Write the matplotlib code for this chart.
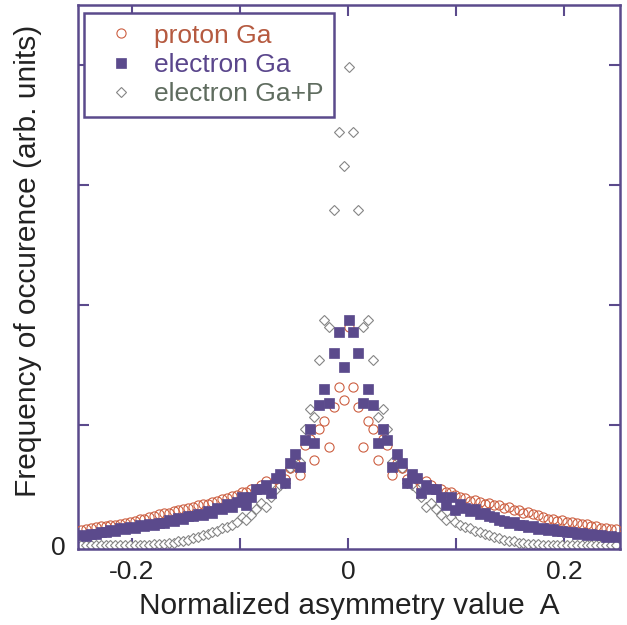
import numpy as np
import matplotlib
matplotlib.use("Agg")
import matplotlib.pyplot as plt

plt.rcParams['font.family'] = ['Liberation Sans', 'DejaVu Sans']

# Asymmetry bins (width 0.0045, centred slightly left of zero)
bin_width = 0.0045
bin_offset = -0.0017
bin_index = np.arange(-55, 56)
asym = bin_offset + bin_width * (bin_index + 0.5)

# Values listed per bin, left half runs A<0 from the edge inward,
# right half runs A>0 from the centre outward.
proton_left = [0.125, 0.135, 0.14, 0.15, 0.155, 0.16, 0.165, 0.17, 0.175, 0.185,
               0.19, 0.20, 0.215, 0.22, 0.23, 0.24, 0.26, 0.265, 0.27, 0.28,
               0.29, 0.30, 0.31, 0.32, 0.33, 0.34, 0.345, 0.36, 0.37, 0.38,
               0.39, 0.41, 0.42, 0.44, 0.44, 0.47, 0.47, 0.50, 0.53, 0.50,
               0.55, 0.58, 0.55, 0.64, 0.68, 0.58, 0.83, 0.88, 0.71, 0.97,
               1.03, 0.82, 1.15, 1.32, 1.21]
proton_right = [1.82, 1.32, 1.15, 0.82, 1.03, 0.97, 0.71, 0.88, 0.83, 0.58,
                0.68, 0.64, 0.55, 0.58, 0.55, 0.50, 0.53, 0.50, 0.47, 0.47,
                0.44, 0.44, 0.42, 0.40, 0.39, 0.37, 0.375, 0.36, 0.345, 0.35,
                0.335, 0.33, 0.31, 0.315, 0.29, 0.295, 0.27, 0.275, 0.26, 0.25,
                0.235, 0.215, 0.22, 0.20, 0.205, 0.19, 0.195, 0.18, 0.175, 0.175,
                0.16, 0.155, 0.145, 0.14, 0.13, 0.13]

electron_left = [0.08, 0.075, 0.095, 0.09, 0.11, 0.105, 0.125, 0.12, 0.14, 0.135,
                 0.15, 0.145, 0.165, 0.16, 0.175, 0.17, 0.185, 0.18, 0.205, 0.20,
                 0.225, 0.22, 0.245, 0.24, 0.26, 0.25, 0.28, 0.27, 0.31, 0.30,
                 0.34, 0.32, 0.36, 0.40, 0.33, 0.40, 0.47, 0.47, 0.50, 0.43,
                 0.56, 0.59, 0.52, 0.68, 0.76, 0.65, 0.875, 0.97, 0.85, 1.17,
                 1.30, 1.18, 1.60, 1.775, 1.48]
electron_right = [1.875, 1.775, 1.60, 1.18, 1.30, 1.17, 0.85, 0.97, 0.875, 0.65,
                  0.76, 0.68, 0.52, 0.59, 0.56, 0.43, 0.50, 0.47, 0.47, 0.40,
                  0.33, 0.40, 0.29, 0.34, 0.31, 0.28, 0.30, 0.26, 0.27, 0.24,
                  0.23, 0.21, 0.20, 0.185, 0.19, 0.165, 0.17, 0.15, 0.155, 0.135,
                  0.14, 0.125, 0.13, 0.115, 0.12, 0.105, 0.11, 0.095, 0.10, 0.085,
                  0.09, 0.08, 0.085, 0.07, 0.075, 0.065]

electron_p_left = [0, 0, 0, 0, 0, 0, 0, 0, 0, 0,
                   0, 0, 0, 0, 0, 0.005, 0.01, 0.01, 0.015, 0.02,
                   0.03, 0.035, 0.045, 0.055, 0.07, 0.08, 0.09, 0.11, 0.12, 0.14,
                   0.15, 0.17, 0.19, 0.23, 0.21, 0.25, 0.30, 0.35, 0.32, 0.40,
                   0.47, 0.50, 0.52, 0.64, 0.66, 0.69, 0.97, 1.13, 1.07, 1.54,
                   1.875, 1.82, 2.79, 3.44, 3.16]
electron_p_right = [3.98, 3.44, 2.79, 1.82, 1.875, 1.54, 1.07, 1.13, 0.97, 0.69,
                    0.66, 0.64, 0.52, 0.50, 0.47, 0.40, 0.32, 0.35, 0.30, 0.25,
                    0.21, 0.23, 0.19, 0.17, 0.15, 0.14, 0.12, 0.11, 0.09, 0.08,
                    0.07, 0.055, 0.045, 0.035, 0.03, 0.02, 0.015, 0.01, 0.01, 0.005,
                    0, 0, 0, 0, 0, 0, 0, 0, 0, 0,
                    0, 0, 0, 0, 0, 0]

proton = proton_left + proton_right
electron = electron_left + electron_right
electron_p = electron_p_left + electron_p_right

purple = '#5b4a8c'
fig = plt.figure(figsize=(6.27, 6.25), dpi=100)
ax = fig.add_axes([0.1244, 0.1216, 0.8644, 0.8704])

h_p, = ax.plot(asym, electron_p, linestyle='none', marker='D', ms=4.8,
               mfc='white', mec='#858585', mew=0.8, zorder=2)
h_c, = ax.plot(asym, proton, linestyle='none', marker='o', ms=6.6,
               mfc='none', mec='#cd5f41', mew=0.8, zorder=3)
h_s, = ax.plot(asym, electron, linestyle='none', marker='s', ms=6.8,
               mfc=purple, mec=purple, mew=0.5, zorder=4)

ax.set_xlim(-0.25, 0.252)
ax.set_ylim(-0.033, 4.5)
ax.set_xticks([-0.2, 0, 0.2])
ax.set_xticklabels(['-0.2', '0', '0.2'])
ax.set_xticks([-0.1, 0.1], minor=True)
ax.set_yticks([0, 1, 2, 3, 4])
ax.set_yticklabels(['0', '', '', '', ''])
ax.tick_params(which='both', direction='in', top=True, right=True,
               length=8, width=1.5, color=purple, labelsize=19, labelcolor='#222222')
ax.tick_params(axis='x', pad=8)
ax.tick_params(axis='y', pad=9)
for sp in ax.spines.values():
    sp.set_color(purple)
    sp.set_linewidth(1.8)

ax.set_xlabel('Normalized asymmetry value  A', fontsize=21.5, color='#222222', labelpad=6)
ax.set_ylabel('Frequency of occurence (arb. units)', fontsize=21.5, color='#222222')
ax.yaxis.set_label_coords(-0.066, 0.53)

leg = ax.legend([h_c, h_s, h_p], ['proton Ga', 'electron Ga', 'electron Ga+P'],
                loc='upper left', bbox_to_anchor=(0.011, 0.985), borderaxespad=0,
                fontsize=19, frameon=True, fancybox=False, edgecolor=purple,
                framealpha=1, handlelength=2.0, handletextpad=0.25,
                labelspacing=0.2, borderpad=0.4,
                labelcolor=['#b55a40', '#5a468c', '#5f6c5f'])
leg.get_frame().set_linewidth(1.8)

fig.savefig('out.png', dpi=100)
